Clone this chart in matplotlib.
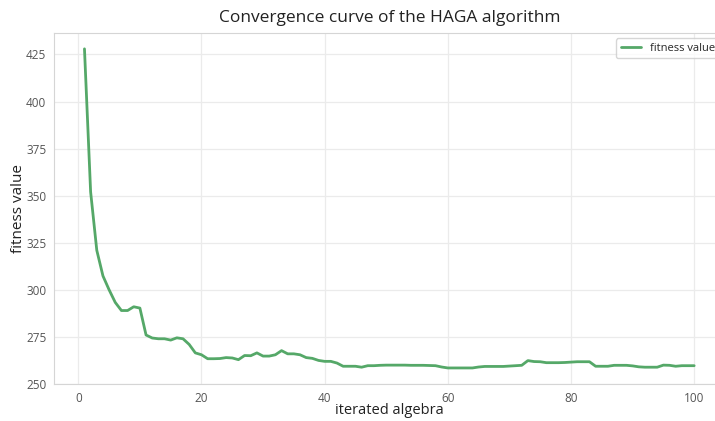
import matplotlib.pyplot as plt
import numpy as np
import seaborn as sns

# fitness value per iteration
fitness = [
    428, 352, 321, 307.4, 300, 293.3, 289, 289, 291, 290.3,
    276, 274.4, 274, 274, 273.3, 274.5, 274, 271, 266.5, 265.5,
    263.4, 263.4, 263.5, 264, 263.8, 262.9, 265.1, 265, 266.5, 264.8,
    264.8, 265.5, 267.7, 266, 266, 265.5, 264, 263.6, 262.5, 262,
    262, 261.1, 259.4, 259.4, 259.4, 258.9, 259.7, 259.7, 259.9, 260,
    260, 260, 260, 259.9, 259.9, 259.9, 259.8, 259.7, 259, 258.5,
    258.5, 258.5, 258.5, 258.5, 259, 259.3, 259.3, 259.3, 259.3, 259.5,
    259.7, 259.9, 262.4, 261.9, 261.8, 261.3, 261.3, 261.3, 261.4, 261.6,
    261.8, 261.8, 261.8, 259.4, 259.4, 259.4, 259.9, 259.9, 259.9, 259.6,
    259.1, 258.9, 258.9, 258.9, 260, 259.9, 259.4, 259.7, 259.7, 259.7,
]
iterations = np.arange(1, len(fitness) + 1)

sns.set_style("whitegrid")
plt.rcParams['font.family'] = ['Open Sans', 'DejaVu Sans']

fig = plt.figure(figsize=(7.15, 4.21), dpi=100)
ax = fig.add_axes([0.0755, 0.088, 0.938, 0.834])

ax.plot(iterations, fitness, color='#55a868', linewidth=2, label='fitness value')
ax.set_ylim(250, 436.5)

ax.set_title('Convergence curve of the HAGA algorithm', fontsize=12.5, color='#222222', pad=8)
ax.set_xlabel('iterated algebra', fontsize=10.5, color='#222222', labelpad=-1)
ax.set_ylabel('fitness value', fontsize=11, color='#222222', labelpad=0)
ax.tick_params(labelsize=8.5, colors='#555555', pad=2)
ax.grid(color='#ebebeb', linewidth=0.9)
for s in ax.spines.values():
    s.set_color('#d5d5d5')

ax.legend(loc='upper right', fontsize=8, frameon=True, handlelength=1.8)

fig.savefig('out.png', dpi=100)
